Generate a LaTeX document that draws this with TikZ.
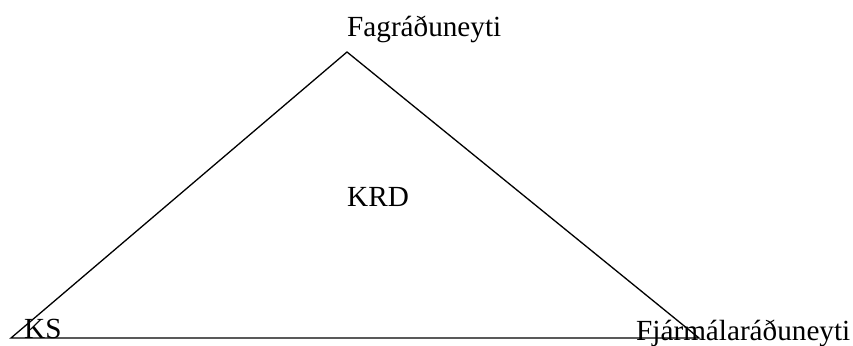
\documentclass[tikz,border=0pt]{standalone}
\usepackage{fontspec}
\setmainfont{Liberation Serif}
\begin{document}
\begin{tikzpicture}[x=1pt,y=1pt,
  lbl/.style={anchor=base west, inner sep=0pt, font=\fontsize{29.2}{35}\selectfont},
  edge/.style={line width=1.3pt, line join=miter}]
\useasboundingbox (0,0) rectangle (853,345);
\coordinate (top) at (347,293);
\coordinate (left) at (11,7);
\coordinate (right) at (699,7);
\draw[edge] (left) -- (top) -- (right) -- cycle;
\node[lbl] (fag) at (347,308) {Fagráðuneyti};
\node[lbl] (krd) at (347,138) {KRD};
\node[lbl] (ks) at (24,6) {KS};
\node[lbl] (fjr) at (636,5) {Fjármálaráðuneyti};
\end{tikzpicture}
\end{document}
